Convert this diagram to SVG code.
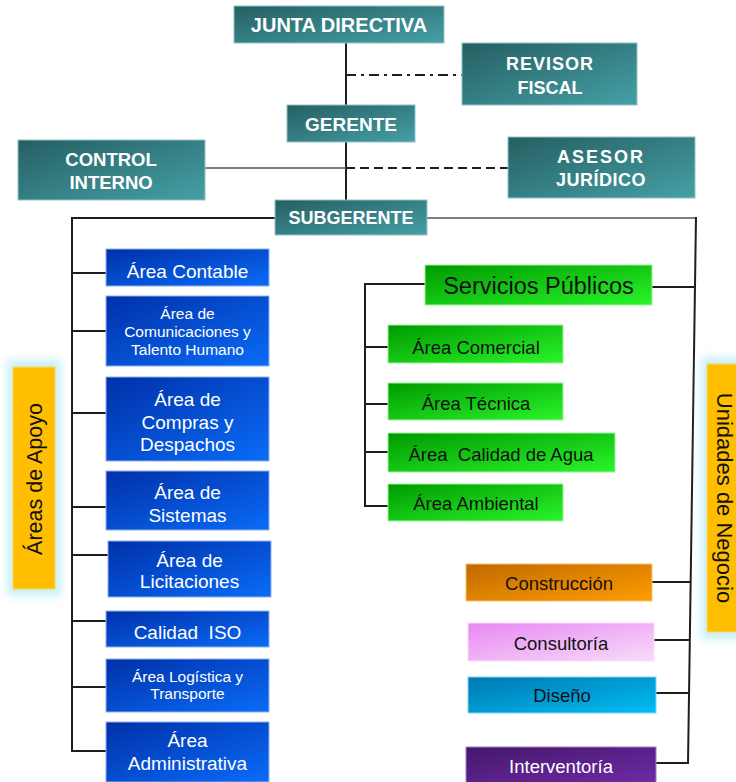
<svg xmlns="http://www.w3.org/2000/svg" width="736" height="782" viewBox="0 0 736 782">
<defs>
<linearGradient id="gTeal" x1="0" y1="0" x2="1" y2="1"><stop offset="0" stop-color="#255f62"/><stop offset="1" stop-color="#45a0a6"/></linearGradient>
<linearGradient id="gBlue" x1="0" y1="0" x2="1" y2="1"><stop offset="0" stop-color="#0030a8"/><stop offset="1" stop-color="#0a6cf8"/></linearGradient>
<linearGradient id="gGreen" x1="0" y1="0" x2="1" y2="1"><stop offset="0" stop-color="#009a00"/><stop offset="1" stop-color="#2af52a"/></linearGradient>
<linearGradient id="gOrange" x1="0" y1="0" x2="1" y2="1"><stop offset="0" stop-color="#c06a00"/><stop offset="1" stop-color="#ff9c00"/></linearGradient>
<linearGradient id="gPink" x1="0" y1="0" x2="1" y2="1"><stop offset="0" stop-color="#e888f2"/><stop offset="1" stop-color="#f8dcfa"/></linearGradient>
<linearGradient id="gCyan" x1="0" y1="0" x2="1" y2="1"><stop offset="0" stop-color="#0078b0"/><stop offset="1" stop-color="#00bcf4"/></linearGradient>
<linearGradient id="gPurple" x1="0" y1="0" x2="1" y2="1"><stop offset="0" stop-color="#45186a"/><stop offset="1" stop-color="#6e2aa6"/></linearGradient>
<filter id="glow" x="-30%" y="-10%" width="160%" height="120%"><feGaussianBlur stdDeviation="4"/></filter>
<style>
.teal{fill:url(#gTeal);stroke:#8fc4c8;stroke-width:1}
.blue{fill:url(#gBlue);stroke:#8fb0f0;stroke-width:1}
.green{fill:url(#gGreen);stroke:#9cf59c;stroke-width:1}
.tt{font-family:"Liberation Sans",Arial,sans-serif;font-weight:bold;font-size:18px;fill:#ffffff;text-anchor:middle}
.bt{font-family:"Liberation Sans",Arial,sans-serif;font-size:19px;fill:#ffffff;text-anchor:middle}
.bs{font-family:"Liberation Sans",Arial,sans-serif;font-size:15.5px;fill:#ffffff;text-anchor:middle}
.gt{font-family:"Liberation Sans",Arial,sans-serif;font-size:18.5px;fill:#111111;text-anchor:middle}
.side{font-family:"Liberation Sans",Arial,sans-serif;fill:#111111;text-anchor:middle}
.ln{stroke:#1e1e1e;stroke-width:2;fill:none}
.lt{stroke:#555555;stroke-width:1.3;fill:none}
</style>
</defs>
<rect width="736" height="782" fill="#ffffff"/>

<g id="connectors">
<line class="ln" x1="346" y1="43" x2="346" y2="200"/>
<line class="ln" x1="346" y1="75" x2="462" y2="75" stroke-dasharray="10 5 3 5"/>
<line class="lt" x1="205" y1="168" x2="346" y2="168"/>
<line class="ln" x1="346" y1="168" x2="508" y2="168" stroke-dasharray="9 5"/>
<line class="ln" x1="71" y1="218" x2="275" y2="218"/>
<line class="lt" x1="427" y1="218" x2="696" y2="218" stroke-width="1.8"/>
<line class="ln" x1="72" y1="217" x2="72" y2="752"/>
<line class="ln" x1="71" y1="273" x2="106" y2="273"/>
<line class="ln" x1="71" y1="331" x2="106" y2="331"/>
<line class="ln" x1="71" y1="413" x2="106" y2="413"/>
<line class="ln" x1="71" y1="507" x2="106" y2="507"/>
<line class="ln" x1="71" y1="555" x2="108" y2="555"/>
<line class="ln" x1="71" y1="621" x2="106" y2="621"/>
<line class="ln" x1="71" y1="687" x2="106" y2="687"/>
<line class="ln" x1="71" y1="751" x2="106" y2="751"/>
<line class="ln" x1="696" y1="217" x2="688" y2="764"/>
<line class="ln" x1="652" y1="287" x2="695" y2="287"/>
<line class="ln" x1="365" y1="283" x2="365" y2="507"/>
<line class="ln" x1="364" y1="284" x2="425" y2="284"/>
<line class="ln" x1="364" y1="347" x2="388" y2="347"/>
<line class="ln" x1="364" y1="404" x2="388" y2="404"/>
<line class="ln" x1="364" y1="452" x2="388" y2="452"/>
<line class="ln" x1="364" y1="506" x2="388" y2="506"/>
<line class="ln" x1="652" y1="582" x2="690.7" y2="582"/>
<line class="ln" x1="654" y1="640" x2="689.8" y2="640"/>
<line class="ln" x1="656" y1="693" x2="689" y2="693"/>
<line class="ln" x1="656" y1="763" x2="689" y2="763"/>
</g>

<g id="junta"><rect class="teal" x="234" y="6" width="210" height="37"/><text class="tt" x="339" y="31.5" style="font-size:20px">JUNTA DIRECTIVA</text></g>
<g id="revisor"><rect class="teal" x="462" y="43" width="175" height="62"/><text class="tt" x="550" y="70" letter-spacing="1">REVISOR</text><text class="tt" x="550" y="94">FISCAL</text></g>
<g id="gerente"><rect class="teal" x="287" y="105" width="128" height="37"/><text class="tt" x="351" y="130.5" style="font-size:19px">GERENTE</text></g>
<g id="control"><rect class="teal" x="18" y="140" width="187" height="60"/><text class="tt" x="111" y="166" style="font-size:18.5px">CONTROL</text><text class="tt" x="111" y="189" style="font-size:18.5px">INTERNO</text></g>
<g id="asesor"><rect class="teal" x="508" y="137" width="187" height="61"/><text class="tt" x="601" y="163" letter-spacing="2">ASESOR</text><text class="tt" x="601" y="186" letter-spacing="0.5">JURÍDICO</text></g>
<g id="subgerente"><rect class="teal" x="275" y="200" width="152" height="35"/><text class="tt" x="351" y="223.5">SUBGERENTE</text></g>

<g id="apoyo"><rect x="7" y="360" width="54" height="236" fill="#c8f0f8" filter="url(#glow)"/><rect x="13" y="367" width="42" height="222" fill="#ffbf00" stroke="#ffd860" stroke-width="1"/><text class="side" style="font-size:21.5px" transform="translate(41.5,479) rotate(-90)">Áreas de Apoyo</text></g>
<g id="unidades"><rect x="701" y="357" width="50" height="282" fill="#c8f0f8" filter="url(#glow)"/><rect x="707" y="364" width="40" height="268" fill="#ffbf00" stroke="#ffd860" stroke-width="1"/><text class="side" style="font-size:22px" transform="translate(716.5,498) rotate(90)">Unidades de Negocio</text></g>

<g id="contable"><rect class="blue" x="106" y="249" width="163" height="37"/><text class="bt" x="187.5" y="277.5">Área Contable</text></g>
<g id="comunicaciones"><rect class="blue" x="106" y="296" width="163" height="70"/><text class="bs" x="187.5" y="319">Área de</text><text class="bs" x="187.5" y="337">Comunicaciones y</text><text class="bs" x="187.5" y="355">Talento Humano</text></g>
<g id="compras"><rect class="blue" x="106" y="377" width="163" height="84"/><text class="bt" x="187.5" y="405.5">Área de</text><text class="bt" x="187.5" y="428.5">Compras y</text><text class="bt" x="187.5" y="450.5">Despachos</text></g>
<g id="sistemas"><rect class="blue" x="106" y="471" width="163" height="59"/><text class="bt" x="187.5" y="498.5">Área de</text><text class="bt" x="187.5" y="521.5">Sistemas</text></g>
<g id="licitaciones"><rect class="blue" x="108" y="541" width="163" height="56"/><text class="bt" x="189.5" y="566.5">Área de</text><text class="bt" x="189.5" y="587.5">Licitaciones</text></g>
<g id="iso"><rect class="blue" x="106" y="611" width="163" height="36"/><text class="bt" x="187.5" y="638.5" xml:space="preserve">Calidad  ISO</text></g>
<g id="logistica"><rect class="blue" x="106" y="659" width="163" height="53"/><text class="bs" x="187.5" y="682">Área Logística y</text><text class="bs" x="187.5" y="699">Transporte</text></g>
<g id="administrativa"><rect class="blue" x="106" y="722" width="163" height="60"/><text class="bt" x="187.5" y="746.5">Área</text><text class="bt" x="187.5" y="769.5">Administrativa</text></g>

<g id="servicios"><rect class="green" x="425" y="265" width="227" height="40"/><text class="gt" x="538.5" y="293.5" style="font-size:23.5px">Servicios Públicos</text></g>
<g id="comercial"><rect class="green" x="388" y="325" width="175" height="38"/><text class="gt" x="476" y="353.5">Área Comercial</text></g>
<g id="tecnica"><rect class="green" x="388" y="383" width="175" height="37"/><text class="gt" x="476" y="409.5">Área Técnica</text></g>
<g id="agua"><rect class="green" x="388" y="433" width="227" height="39"/><text class="gt" x="501" y="460.5" xml:space="preserve">Área  Calidad de Agua</text></g>
<g id="ambiental"><rect class="green" x="388" y="484" width="175" height="37"/><text class="gt" x="476" y="509.5">Área Ambiental</text></g>

<g id="construccion"><rect x="466" y="564" width="186" height="37" fill="url(#gOrange)" stroke="#f5c070" stroke-width="1"/><text class="gt" x="559" y="589.5">Construcción</text></g>
<g id="consultoria"><rect x="468" y="623" width="186" height="38" fill="url(#gPink)" stroke="#f8e0fa" stroke-width="1"/><text class="gt" x="561" y="649.5">Consultoría</text></g>
<g id="diseno"><rect x="468" y="677" width="188" height="36" fill="url(#gCyan)" stroke="#80d8f8" stroke-width="1"/><text class="gt" x="562" y="701.5">Diseño</text></g>
<g id="interventoria"><rect x="466" y="747" width="190" height="36" fill="url(#gPurple)" stroke="#a080c0" stroke-width="1"/><text class="gt" x="561" y="772.5" style="fill:#ffffff">Interventoría</text></g>
</svg>
